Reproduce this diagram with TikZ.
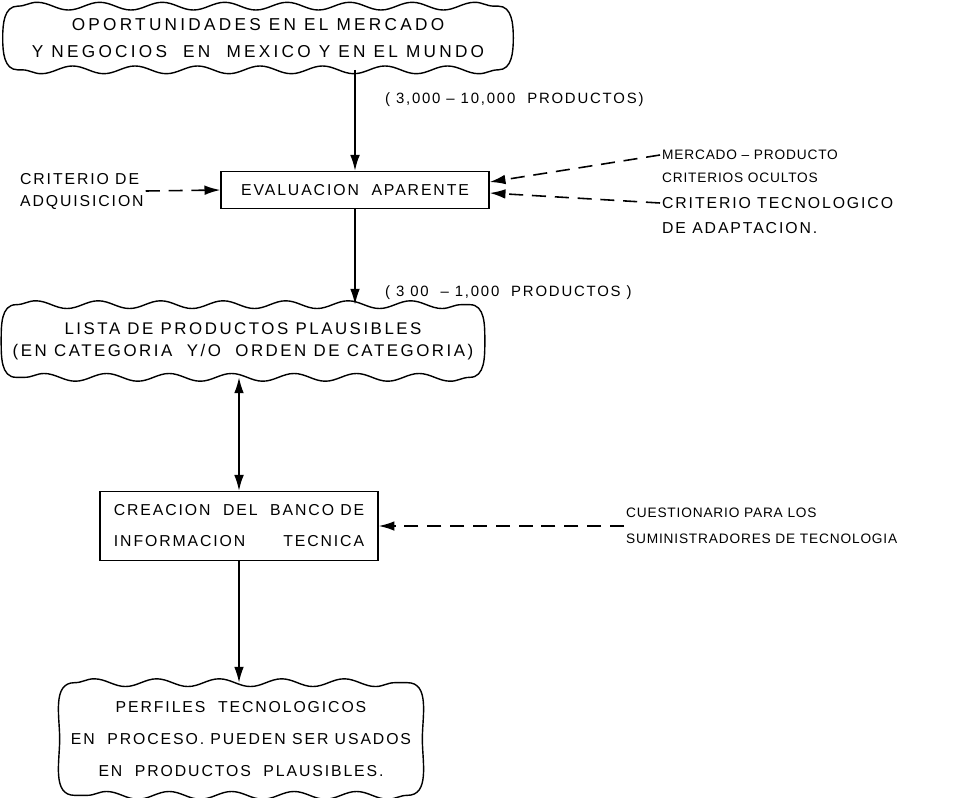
\documentclass[tikz,border=0pt]{standalone}
\usepackage{fontspec}
\setmainfont{Liberation Sans}[LetterSpace=12]
\usetikzlibrary{arrows.meta,decorations.pathmorphing}

\tikzset{
  nube/.style={align=center},
  borde/.style={line width=0.8pt, decoration={snake, amplitude=2.2pt, segment length=1.25cm}},
  caja/.style={draw, line width=0.8pt, align=center},
  rotulo/.style={inner sep=1pt, align=left},
  punta/.tip={Latex[length=9pt,width=5.5pt]},
  flecha/.style={line width=0.9pt, -punta},
  flechad/.style={flecha, dash pattern=on 8pt off 5pt}
}

\newcommand{\marconube}[1]{%
  \draw[borde] ([xshift=3mm]#1.north west)
    decorate {-- ([xshift=-3mm]#1.north east)}
    to[out=0,in=90] (#1.east) to[out=-90,in=0] ([xshift=-3mm]#1.south east)
    decorate {-- ([xshift=3mm]#1.south west)}
    to[out=180,in=-90] (#1.west) to[out=90,in=180] cycle;}

\begin{document}
\begin{tikzpicture}[x=0.02cm, y=-0.02cm, font=\fontsize{9}{15}\selectfont]
        \useasboundingbox (0,0) rectangle (972,797);

        \node[nube, minimum width=10.2cm, minimum height=1.26cm,
              font=\fontsize{9.8}{15.3}\selectfont\addfontfeature{LetterSpace=19}] (oport) at (258,38)
              {OPORTUNIDADES EN EL MERCADO\\Y NEGOCIOS \ EN \ MEXICO Y EN EL MUNDO};
        \node[caja, minimum width=5.36cm, minimum height=0.74cm] (eval) at (355,190)
              {EVALUACION \ APARENTE};
        \node[nube, minimum width=9.66cm, minimum height=1.44cm,
              font=\fontsize{9.6}{12.5}\selectfont\addfontfeature{LetterSpace=15}] (plaus) at (243,341)
              {LISTA DE PRODUCTOS PLAUSIBLES\\(EN CATEGORIA \ Y/O \ ORDEN DE CATEGORIA)};
        \node[caja, minimum width=5.56cm, minimum height=1.38cm,
              font=\fontsize{9}{17.6}\selectfont] (banco) at (239,526)
              {CREACION \ DEL \ BANCO DE\\INFORMACION \qquad TECNICA};
        \node[nube, minimum width=7.24cm, minimum height=2.24cm,
              font=\fontsize{9}{18.4}\selectfont] (perf) at (241,739)
              {PERFILES \ TECNOLOGICOS\\EN \ PROCESO. PUEDEN SER USADOS\\EN \ PRODUCTOS \ PLAUSIBLES.};
        \marconube{oport}
        \marconube{plaus}
        \marconube{perf}

        \node[rotulo, anchor=west, font=\fontsize{8.5}{15}\selectfont] (cant1) at (383,100)
              {( 3,000 \textendash{} 10,000 \ PRODUCTOS)};
        \node[rotulo, anchor=west, font=\fontsize{8.5}{15}\selectfont] (cant2) at (383,293)
              {( 3 00 \ \textendash{} 1,000 \ PRODUCTOS )};

        \node[rotulo, anchor=west, font=\fontsize{9}{12.5}\selectfont] (crit) at (18,191)
              {CRITERIO DE\\ADQUISICION};
        \node[rotulo, anchor=west, font=\fontsize{7.8}{12}\selectfont\addfontfeature{LetterSpace=6}] (merc1) at (660,155)
              {MERCADO \textendash{} PRODUCTO};
        \node[rotulo, anchor=west, font=\fontsize{7.8}{12}\selectfont\addfontfeature{LetterSpace=6}] (merc2) at (660,178)
              {CRITERIOS OCULTOS};
        \node[rotulo, anchor=west] (tec1) at (660,203) {CRITERIO TECNOLOGICO};
        \node[rotulo, anchor=west] (tec2) at (660,228) {DE ADAPTACION.};
        \node[rotulo, anchor=west, font=\fontsize{7.8}{14.7}\selectfont\addfontfeature{LetterSpace=6}] (cues) at (624,526)
              {CUESTIONARIO PARA LOS\\SUMINISTRADORES DE TECNOLOGIA};

        \draw[flecha] (eval.north |- oport.south) -- (eval.north);
        \draw[flecha] (eval.south) -- (eval.south |- plaus.north);
        \draw[flecha, punta-punta] (banco.north |- plaus.south) -- (banco.north);
        \draw[flecha] (banco.south) -- (banco.south |- perf.north);

        \draw[flechad] (crit.east) -- (eval.west);
        \draw[flechad] (merc1.west) -- ([yshift=1.6mm]eval.east);
        \draw[flechad] (tec1.west) -- ([yshift=-0.6mm]eval.east);
        \draw[flechad] (cues.west) -- (banco.east);
\end{tikzpicture}
\end{document}
